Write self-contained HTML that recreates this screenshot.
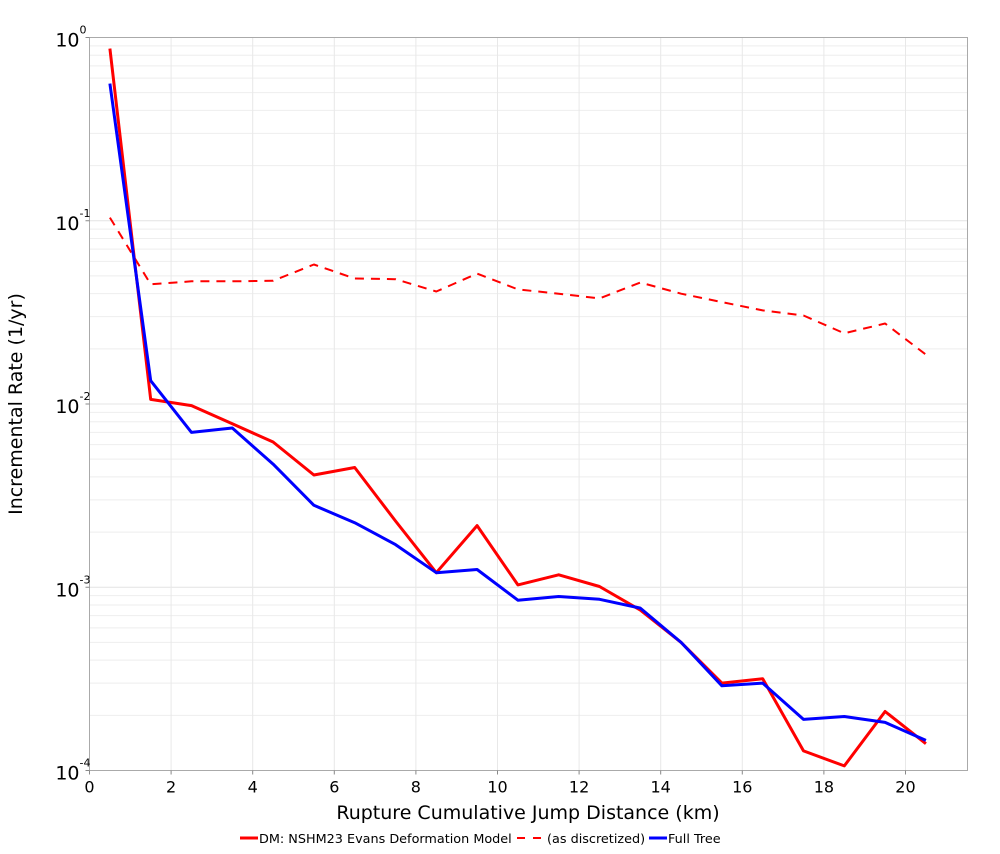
<!DOCTYPE html>
<html><head><meta charset="utf-8"><style>
body{margin:0;background:#fff;font-family:"DejaVu Sans","Liberation Sans",sans-serif;}
svg text{font-family:"DejaVu Sans","Liberation Sans",sans-serif;}
</style></head><body>
<svg id="chart" width="1000" height="850" xmlns="http://www.w3.org/2000/svg">
<g id="grid"></g>
<rect x="89.5" y="37.5" width="878" height="733" fill="none" stroke="#aaa"/>
<g id="series"></g>
<g id="axes"></g>
<text x="528" y="819" font-size="19" text-anchor="middle">Rupture Cumulative Jump Distance (km)</text>
<text transform="translate(22,404) rotate(-90)" font-size="19" text-anchor="middle">Incremental Rate (1/yr)</text>
<g font-size="12.8">
<line x1="240" y1="838" x2="258" y2="838" stroke="#f00" stroke-width="3"/>
<text x="259" y="843">DM: NSHM23 Evans Deformation Model</text>
<line x1="517" y1="838" x2="542" y2="838" stroke="#f00" stroke-width="2" stroke-dasharray="8,8"/>
<text x="547" y="843">(as discretized)</text>
<line x1="649" y1="838" x2="667" y2="838" stroke="#00f" stroke-width="3"/>
<text x="668" y="843">Full Tree</text>
</g>
</svg>
<script>
const xs=[0.5,1.5,2.5,3.5,4.5,5.5,6.5,7.5,8.5,9.5,10.5,11.5,12.5,13.5,14.5,15.5,16.5,17.5,18.5,19.5,20.5];
const dmVals=[0.87,0.0106,0.0098,0.0078,0.0062,0.0041,0.0045,0.0023,0.0012,0.00217,0.00103,0.00117,0.00101,0.00075,0.0005,0.0003,0.000317,0.000128,0.000106,0.00021,0.00014];
const discVals=[0.104,0.045,0.0467,0.0467,0.047,0.0577,0.0484,0.048,0.0411,0.0515,0.0422,0.040,0.0377,0.046,0.040,0.036,0.0324,0.0304,0.0243,0.0275,0.0186];
const fullVals=[0.56,0.0134,0.0070,0.0074,0.0047,0.0028,0.00225,0.00171,0.0012,0.00125,0.00085,0.00089,0.00086,0.00077,0.0005,0.00029,0.0003,0.00019,0.000197,0.000183,0.000146];
const xTicks=[0,2,4,6,8,10,12,14,16,18,20];
const yExps=[0,-1,-2,-3,-4];
const X0=89.5,X1=967.5,Y0=37.5,Y1=770.5,XMAX=21.52;
const sx=v=>X0+v/XMAX*(X1-X0);
const sy=v=>Y0+(-Math.log10(v))/4*(Y1-Y0);
const NS="http://www.w3.org/2000/svg";
function mk(t,a,p){const e=document.createElementNS(NS,t);for(const k in a)e.setAttribute(k,a[k]);p.appendChild(e);return e;}
const grid=document.getElementById('grid'),axes=document.getElementById('axes'),ser=document.getElementById('series');
for(let e=0;e>-4;e--){for(let m=2;m<=9;m++){const y=sy(m*Math.pow(10,e-1));const l=mk('line',{x1:X0,x2:X1,y1:y,y2:y,stroke:'#eee'},grid);}}
yExps.forEach(e=>{const y=sy(Math.pow(10,e));const l=mk('line',{x1:X0,x2:X1,y1:y,y2:y,stroke:'#e4e4e4'},grid);
const t=mk('text',{x:X0-10,y:y+9,'font-size':'19','text-anchor':'end'},axes);t.textContent='10';
const s=mk('text',{x:X0-10,y:y-4,'font-size':'11'},axes);s.textContent=String(e);
mk('line',{x1:X0-4,x2:X0,y1:y,y2:y,stroke:'#888'},axes);});
xTicks.forEach(v=>{const x=sx(v);if(v>0){const l=mk('line',{x1:x,x2:x,y1:Y0,y2:Y1,stroke:'#e8e8e8'},grid);}
mk('line',{x1:x,x2:x,y1:Y1,y2:Y1+4,stroke:'#888'},axes);
const t=mk('text',{x:x,y:Y1+22,'font-size':'16','text-anchor':'middle'},axes);t.textContent=String(v);});
function line(vals,col,w,dash,name){const pts=xs.map((x,i)=>sx(x).toFixed(1)+','+sy(vals[i]).toFixed(1)).join(' ');
const p=mk('polyline',{points:pts,fill:'none',stroke:col,'stroke-width':w,'stroke-linejoin':'round'},ser);if(dash)p.setAttribute('stroke-dasharray',dash);
}
line(discVals,'#f00',2,'9,7','discretized-line');
line(dmVals,'#f00',3,null,'dm-line');
line(fullVals,'#00f',3,null,'full-tree-line');
</script>
</body></html>
